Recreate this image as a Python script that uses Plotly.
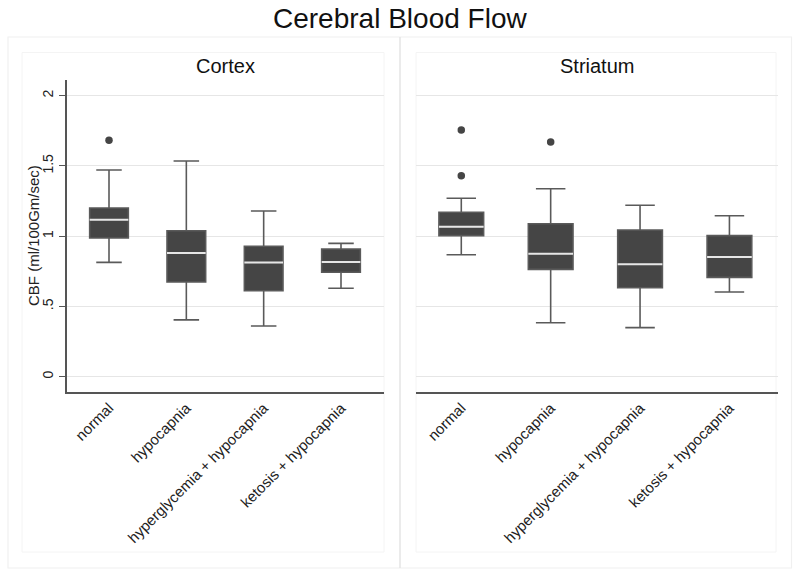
import plotly.graph_objects as go

categories = ["normal", "hypocapnia", "hyperglycemia + hypocapnia", "ketosis + hypocapnia"]
panels = ["Cortex", "Striatum"]

# Box statistics
cortex_lower = [0.814, 0.404, 0.361, 0.629]
cortex_q1 = [0.987, 0.674, 0.612, 0.743]
cortex_median = [1.117, 0.880, 0.812, 0.816]
cortex_q3 = [1.201, 1.039, 0.928, 0.909]
cortex_upper = [1.471, 1.535, 1.179, 0.949]
cortex_outlier_cat = [0]
cortex_outlier_val = [1.683]

striatum_lower = [0.868, 0.384, 0.349, 0.603]
striatum_q1 = [1.004, 0.764, 0.633, 0.707]
striatum_median = [1.068, 0.875, 0.800, 0.852]
striatum_q3 = [1.170, 1.089, 1.044, 1.004]
striatum_upper = [1.270, 1.338, 1.220, 1.146]
striatum_outlier_cat = [0, 0, 1]
striatum_outlier_val = [1.756, 1.431, 1.670]

y_ticks = [0, 0.5, 1, 1.5, 2]
y_ticktext = ["0", ".5", "1", "1.5", "2"]
y_title = "CBF (ml/100Gm/sec)"
main_title = "Cerebral Blood Flow"

BOX_FILL = "#454545"
WHISKER = "#5a5a5a"
MEDIAN = "#e6e6e6"
FONT = "Liberation Sans, Arial, sans-serif"
W = 800
H = 576

def px_x(p):
    return p / W

def px_y(p):
    return 1 - p / H

fig = go.Figure()

data = [
    (cortex_lower, cortex_q1, cortex_median, cortex_q3, cortex_upper, cortex_outlier_cat, cortex_outlier_val, "x", "y"),
    (striatum_lower, striatum_q1, striatum_median, striatum_q3, striatum_upper, striatum_outlier_cat, striatum_outlier_val, "x2", "y2"),
]
xs = list(range(len(categories)))
for lo, q1, med, q3, up, oc, ov, xa, ya in data:
    fig.add_trace(go.Box(
        x=xs, q1=q1, median=med, q3=q3, lowerfence=lo, upperfence=up,
        width=0.5, whiskerwidth=0.66, fillcolor=BOX_FILL,
        line=dict(color=WHISKER, width=1.6), boxpoints=False,
        xaxis=xa, yaxis=ya, showlegend=False, hoverinfo="skip"))
    # light median line: degenerate box at the median
    fig.add_trace(go.Box(
        x=xs, q1=med, median=med, q3=med, lowerfence=med, upperfence=med,
        width=0.5, whiskerwidth=0, fillcolor="rgba(0,0,0,0)",
        line=dict(color=MEDIAN, width=2), boxpoints=False,
        xaxis=xa, yaxis=ya, showlegend=False, hoverinfo="skip"))
    fig.add_trace(go.Scatter(
        x=oc, y=ov, mode="markers",
        marker=dict(color=BOX_FILL, size=7.5),
        xaxis=xa, yaxis=ya, showlegend=False, hoverinfo="skip"))

yrange = [-0.107, 2.112]
ydom = [px_y(391.7), px_y(80)]
common_x = dict(tickmode="array", tickvals=xs, ticktext=categories, tickangle=-45,
                showgrid=False, zeroline=False, showline=True, linecolor="#555555",
                linewidth=1.5, ticks="", tickfont=dict(family=FONT, size=15, color="#222"),
                fixedrange=True, automargin=False)
fig.update_layout(
    width=W, height=H,
    margin=dict(l=0, r=0, t=0, b=0),
    paper_bgcolor="white", plot_bgcolor="white",
    xaxis=dict(domain=[px_x(66.7), px_x(384)], range=[-0.547, 3.556], anchor="y", **common_x),
    xaxis2=dict(domain=[px_x(415.7), px_x(777.7)], range=[-0.51, 3.54], anchor="y2", **common_x),
    yaxis=dict(domain=ydom, range=yrange, anchor="x", tickmode="array", tickvals=y_ticks,
               ticktext=y_ticktext, tickangle=-90, showgrid=True, gridcolor="#e6e6e6",
               gridwidth=1.2, zeroline=False, showline=True, linecolor="#555555", linewidth=1.5,
               ticks="outside", ticklen=6, tickcolor="#555555", automargin=False,
               tickfont=dict(family=FONT, size=14, color="#222")),
    yaxis2=dict(domain=ydom, range=yrange, anchor="x2", tickmode="array", tickvals=y_ticks,
                showticklabels=False, showgrid=True, gridcolor="#e6e6e6", gridwidth=1.2,
                zeroline=False, showline=False, ticks="", automargin=False),
)

# panel frames (faint)
shapes = [
    dict(type="rect", xref="paper", yref="paper", x0=px_x(8), x1=px_x(791.5),
         y0=px_y(568), y1=px_y(37), line=dict(color="#f0f0f0", width=1.2), layer="below"),
    dict(type="line", xref="paper", yref="paper", x0=px_x(400), x1=px_x(400),
         y0=px_y(568), y1=px_y(37), line=dict(color="#e4e4e4", width=1.5), layer="below"),
    dict(type="rect", xref="paper", yref="paper", x0=px_x(22), x1=px_x(384),
         y0=px_y(552), y1=px_y(52.5), line=dict(color="#f4f4f4", width=1), layer="below"),
    dict(type="rect", xref="paper", yref="paper", x0=px_x(416), x1=px_x(776),
         y0=px_y(552), y1=px_y(52.5), line=dict(color="#f4f4f4", width=1), layer="below"),
]
fig.update_layout(shapes=shapes)

annotations = [
    dict(text=main_title, x=0.5, y=px_y(18), xref="paper", yref="paper",
         showarrow=False, xanchor="center", yanchor="middle",
         font=dict(family=FONT, size=28, color="#111")),
    dict(text=y_title, x=px_x(33), y=px_y(236), xref="paper", yref="paper",
         showarrow=False, xanchor="center", yanchor="middle", textangle=-90,
         font=dict(family=FONT, size=15, color="#222")),
]
for name, cx in zip(panels, [225.4, 596.7]):
    annotations.append(dict(text=name, x=px_x(cx), y=px_y(66), xref="paper", yref="paper",
                            showarrow=False, xanchor="center", yanchor="middle",
                            font=dict(family=FONT, size=20, color="#111")))
fig.update_layout(annotations=annotations)

fig.write_html("out.html", config={"displayModeBar": False},
               post_script="document.body.style.margin='0';")
